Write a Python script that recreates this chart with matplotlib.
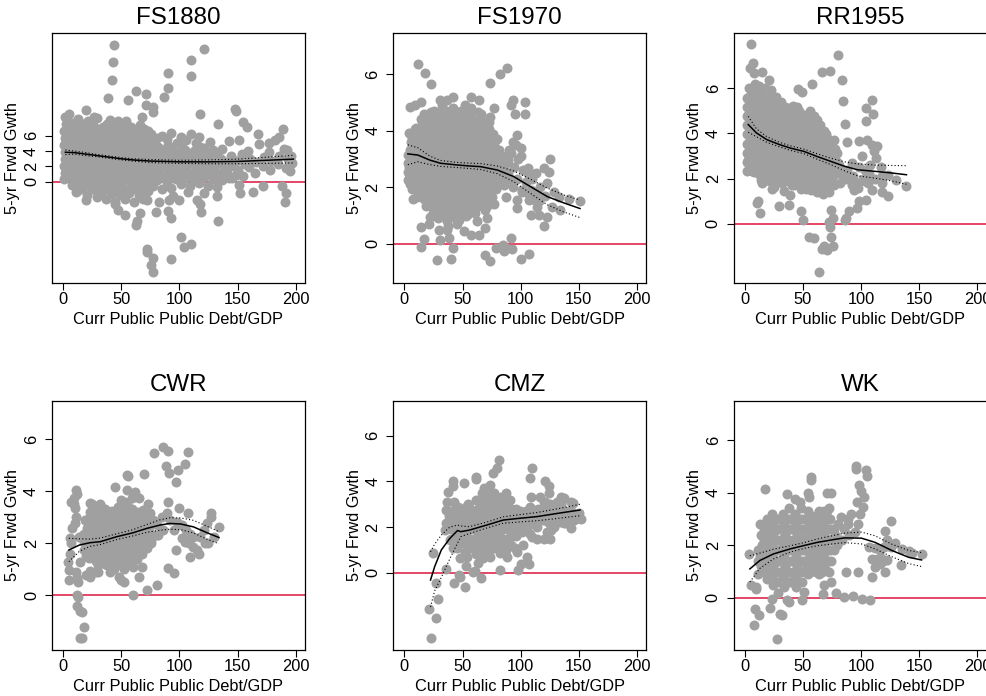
import matplotlib
matplotlib.use("Agg")
import matplotlib.pyplot as plt

plt.rcParams['font.family'] = ['Liberation Sans', 'DejaVu Sans']

# ---------------- data ----------------
TITLES = ["FS1880", "FS1970", "RR1955", "CWR", "CMZ", "WK"]
X_LABEL = "Curr Public Public Debt/GDP"
Y_LABEL = "5-yr Frwd Gwth"
X_TICKS = [0, 50, 100, 150, 200]
Y_TICKS = [0, 2, 4, 6]
Y_LIMITS = [(-13.2, 19.4), (-1.37, 7.44), (-2.6, 8.42), (-2.1, 7.47), (-3.39, 7.54), (-1.99, 7.5)]

FS1880_POINTS = [
    (1,0.3),(2,1.2),(0.5,2.1),(1.5,3.0),(2,3.9),(0.8,4.8),(1.8,5.7),(1,6.6),(2.2,7.5),(1.5,8.4),
    (4,0.8),(5,1.7),(3.5,2.6),(4.5,3.5),(5,4.4),(3.8,5.3),(4.6,6.2),(5.2,7.1),(4,8.0),(5,8.8),
    (8,-0.4),(9,0.5),(7.5,1.4),(8.5,2.3),(9,3.2),(7.8,4.1),(8.6,5.0),(9.2,5.9),(8,6.8),(9,7.7),
    (12,-1.2),(13,0),(11.5,1.0),(12.5,2.0),(13,2.9),(11.8,3.8),(12.6,4.7),(13.2,5.6),(12,6.5),(13,7.4),(12.5,8.2),
    (17,-0.7),(16,0.4),(17.5,1.3),(16.5,2.2),(17,3.1),(18,4.0),(16.6,4.9),(17.2,5.8),(18,6.7),(17,7.6),
    (21,-1.8),(22,-0.3),(20.5,0.8),(21.5,1.7),(22,2.6),(20.8,3.5),(21.6,4.4),(22.2,5.3),(21,6.2),(22,7.1),(21.5,8.0),
    (25,-1.0),(26,0.1),(24.5,1.1),(25.5,2.0),(26,2.9),(24.8,3.8),(25.6,4.7),(26.2,5.6),(25,6.5),(26,7.4),
    (29,-2.0),(30,-0.6),(28.5,0.5),(29.5,1.5),(30,2.4),(28.8,3.3),(29.6,4.2),(30.2,5.1),(29,6.0),(30,6.9),(29.5,8.3),
    (33,-1.3),(34,-0.2),(32.5,0.9),(33.5,1.8),(34,2.7),(32.8,3.6),(33.6,4.5),(34.2,5.4),(33,6.3),(34,7.2),
    (37,-2.3),(38,-0.8),(36.5,0.3),(37.5,1.3),(38,2.2),(36.8,3.1),(37.6,4.0),(38.2,4.9),(37,5.8),(38,6.7),(37.5,7.6),
    (41,-1.6),(42,-0.4),(40.5,0.7),(41.5,1.7),(42,2.6),(40.8,3.5),(41.6,4.4),(42.2,5.3),(41,6.2),(42,7.1),
    (45,-2.6),(46,-1.0),(44.5,0.1),(45.5,1.1),(46,2.0),(44.8,2.9),(45.6,3.8),(46.2,4.7),(45,5.6),(46,6.5),(45.5,7.4),
    (49,-1.8),(50,-0.5),(48.5,0.6),(49.5,1.6),(50,2.5),(48.8,3.4),(49.6,4.3),(50.2,5.2),(49,6.1),(50,7.0),
    (53,-2.2),(54,-1.1),(52.5,0.2),(53.5,1.2),(54,2.1),(52.8,3.0),(53.6,3.9),(54.2,4.8),(53,5.7),(54,6.6),(53.5,7.6),
    (57,-1.5),(58,-0.2),(56.5,0.8),(57.5,1.8),(58,2.7),(56.8,3.6),(57.6,4.5),(58.2,5.4),(57,6.3),(58,7.2),
    (61,-2.6),(62,-0.8),(60.5,0.4),(61.5,1.4),(62,2.3),(60.8,3.2),(61.6,4.1),(62.2,5.0),(61,5.9),(62,6.8),
    (65,-1.7),(66,-0.1),(64.5,1.0),(65.5,2.0),(66,2.9),(64.8,3.8),(65.6,4.7),(66.2,5.6),(65,6.5),(66,7.4),
    (69,-2.2),(70,-0.6),(68.5,0.5),(69.5,1.5),(70,2.4),(68.8,3.3),(69.6,4.2),(70.2,5.1),(69,6.0),(70,6.9),
    (73,-1.2),(74,0.1),(72.5,1.1),(73.5,2.1),(74,3.0),(72.8,3.9),(73.6,4.8),(74.2,5.7),(73,6.6),
    (77,-0.5),(78,0.7),(76,1.8),(77,2.9),(78,4.0),(77,5.1),(76,6.2),
    (81,0.2),(82,1.3),(80,2.4),(81,3.5),(82,4.6),(81,5.7),
    (85,-1.0),(86,0.6),(84,1.9),(85,3.0),(86,4.1),(85,6.0),
    (89,0.0),(90,1.2),(88,2.5),(89,3.6),(90,4.8),(89,5.6),
    (93,-0.8),(94,0.7),(92,1.8),(93,2.9),(94,4.2),(93,6.4),
    (97,0.3),(98,1.5),(96,2.6),(97,3.8),(98,5.0),
    (101,-0.3),(102,1.0),(100,2.2),(101,3.3),(102,4.5),(101,5.9),
    (105,0.5),(106,1.8),(104,2.9),(105,4.1),(106,5.4),
    (109,-0.6),(110,1.2),(108,2.4),(109,3.6),(110,6.2),
    (113,0.2),(114,1.6),(112,2.8),(113,4.0),(114,5.0),
    (117,-0.2),(118,1.0),(116,2.2),(117,3.4),(118,4.6),(117,5.8),
    (121,0.6),(122,1.9),(120,3.1),(121,4.4),
    (125,-0.5),(126,1.3),(124,2.5),(125,3.7),(126,5.2),
    (129,0.4),(130,1.8),(128,3.0),(129,4.2),
    (133,1.0),(134,2.4),(132,3.5),
    (137,0.2),(138,1.7),(136,3.0),(137,4.3),
    (141,1.1),(142,2.6),(145,0.5),(146,2.0),(144,3.3),
    (150,1.5),(151,2.8),(155,0.8),(156,2.3),(154,3.6),
    (160,1.9),(161,3.0),(165,1.2),(166,2.6),(172,2.0),(173,3.2),
    (178,1.5),(179,2.7),(177,3.9),(185,2.3),(186,3.4),(192,1.8),(193,3.0),(197,2.5),(196,3.3),
    # scattered points
    (43.8,17.9),(43,15.6),(42,13.3),(121,17.3),(110,15.9),(110,13.8),(90,14.2),(90,12.2),(87,11.1),
    (39,10.9),(62.5,11.9),(71,11.5),(56,10.7),(71,10.0),(77,9.8),(77,9.1),(19.5,9.4),(27,8.4),
    (40,8.1),(47,8.0),(54,7.9),(68,8.5),(117.5,8.8),(148,9.5),(148.5,9.2),(155,7.8),(158,7.1),
    (133,7.6),(168,6.3),(189,6.9),(186,5.8),(182,5.5),(168.5,4.9),(177,5.1),(190,4.3),(192.5,4.1),
    (143,5.3),(151,5.4),(159,4.0),(195,1.4),(192,-1.5),(191,-2.6),(188,-0.6),(172,-0.6),(163,-1.3),
    (152,-1.5),(151,-0.4),(149,0.9),(143,0.5),(132,-0.7),(132,-1.9),(133,-5.1),(121,-1.5),
    (117.5,-2.9),(118.6,-4.0),(115,-2.4),(107,-1.3),(100,-2.4),(94.5,-1.9),(91,-2.4),(90,-3.8),
    (93,-4.8),(82.5,-2.6),(79.6,-3.9),(101,-7.2),(104,-8.5),(110,-8.1),(92.5,-10.1),(72,-8.8),
    (72.3,-9.2),(77.6,-10.0),(76,-10.9),(77,-11.8),(62.5,-5.7),(63.6,-5.1),(66,-4.1),(53,-4.3),
    (47,-3.7),(44.4,-2.9),(19.5,-2.4),(11,-1.4),(72.5,-2.4),(69,-1.3),
]
FS1880_FILL_ROWS = [
    (-1.0, [15, 27, 35, 43, 51, 59, 67]),
    (3.5, [3, 11, 19, 27, 35, 43, 51, 59, 67, 75]),
    (6.0, [3, 11, 19, 27, 35, 43, 51, 59, 67]),
]

FS1970_POINTS = [
    (5,2.4),(4,2.7),(6,3.0),(4.5,3.3),(5.5,3.6),
    (9,2.0),(8,2.3),(10,2.6),(8.5,2.9),(9.5,3.2),(9,3.5),(8,3.8),(10,4.1),
    (13,1.8),(12,2.5),(14,2.8),(12.5,3.1),(13.5,3.4),(13,3.7),(12,4.0),(14,4.4),
    (17,1.6),(16,2.2),(18,2.6),(16.5,2.9),(17.5,3.2),(17,3.5),(16,3.8),(18,4.1),(17,4.6),
    (21,1.4),(20,1.9),(22,2.3),(20.5,2.6),(21.5,2.9),(21,3.2),(20,3.5),(22,3.8),(21,4.2),(20.5,4.6),
    (25,1.1),(24,1.6),(26,2.0),(24.5,2.4),(25.5,2.7),(25,3.0),(24,3.3),(26,3.6),(25,3.9),(24.5,4.3),(25.5,4.7),
    (29,0.9),(28,1.3),(30,1.7),(28.5,2.1),(29.5,2.4),(29,2.7),(28,3.0),(30,3.3),(29,3.6),(28.5,3.9),(29.5,4.2),(29,4.6),
    (33,1.0),(32,1.4),(34,1.8),(32.5,2.1),(33.5,2.4),(33,2.7),(32,3.0),(34,3.3),(33,3.6),(32.5,3.9),(33.5,4.2),(33,4.5),(32,4.9),
    (37,0.8),(36,1.2),(38,1.6),(36.5,1.9),(37.5,2.2),(37,2.5),(36,2.8),(38,3.1),(37,3.4),(36.5,3.7),(37.5,4.0),(37,4.3),(36,4.7),
    (41,1.0),(40,1.3),(42,1.7),(40.5,2.0),(41.5,2.3),(41,2.6),(40,2.9),(42,3.2),(41,3.5),(40.5,3.8),(41.5,4.1),(41,4.4),(42,4.8),
    (45,0.7),(44,1.1),(46,1.5),(44.5,1.8),(45.5,2.1),(45,2.4),(44,2.7),(46,3.0),(45,3.3),(44.5,3.6),(45.5,3.9),(45,4.2),(44,4.6),
    (49,1.2),(48,1.6),(50,1.9),(48.5,2.2),(49.5,2.5),(49,2.8),(48,3.1),(50,3.4),(49,3.7),(48.5,4.0),(49.5,4.3),(49,4.7),
    (53,1.0),(52,1.4),(54,1.7),(52.5,2.0),(53.5,2.3),(53,2.6),(52,2.9),(54,3.2),(53,3.5),(52.5,3.8),(53.5,4.1),(53,4.5),(52,4.9),
    (57,1.3),(56,1.7),(58,2.0),(56.5,2.3),(57.5,2.6),(57,2.9),(56,3.2),(58,3.5),(57,3.8),(56.5,4.1),(57.5,4.4),(57,4.8),
    (61,1.1),(60,1.5),(62,1.9),(60.5,2.2),(61.5,2.5),(61,2.8),(60,3.1),(62,3.4),(61,3.7),(60.5,4.0),(61.5,4.3),
    (65,1.4),(64,1.8),(66,2.1),(64.5,2.4),(65.5,2.7),(65,3.0),(64,3.3),(66,3.6),(65,3.9),(64.5,4.2),(65.5,4.6),
    (69,1.2),(68,1.7),(70,2.0),(68.5,2.3),(69.5,2.6),(69,2.9),(68,3.2),(70,3.5),(69,3.8),(68.5,4.1),
    (73,1.5),(72,1.9),(74,2.2),(72.5,2.6),(73.5,2.9),(73,3.2),(72,3.6),(74,3.9),(73,4.3),
    (77,1.4),(76,2.0),(78,2.4),(76.5,2.8),(77.5,3.1),(77,3.5),(76,3.9),
    (81,2.1),(80,2.5),(82,2.9),(81,3.3),(80,3.7),
    (85,2.3),(86,2.7),(84,3.1),(89,2.5),(88,2.9),(90,3.3),(93,2.0),(94,2.7),(92,3.2),
    (97,2.3),(98,3.0),(96,3.5),(101,1.9),(102,2.6),(100,3.1),(105,2.2),(106,2.5),
    (109,1.9),(110,2.3),(113,1.8),(117,2.0),(116,1.5),(121,1.7),
    # scattered points
    (11.8,6.35),(17.5,6.05),(22.7,5.66),(82,6.0),(88.5,6.2),(73.3,5.67),(93.4,5.08),(104,5.02),
    (104,4.6),(95,4.6),(91.5,4.9),(3.7,3.93),(5,4.85),(9.5,4.9),(14.4,5.0),(31,5.08),(37,5.08),
    (41.7,5.2),(57,5.2),(64,5.1),(77,4.8),(73.6,4.5),(97,3.85),(93.7,3.6),(100.6,3.4),
    (106.6,2.67),(113.5,2.5),(125,3.0),(120,2.67),(124.4,2.55),(123,2.14),(128.7,1.85),
    (133,1.67),(141.7,1.6),(151,1.5),(133.6,1.2),(127,1.3),(123,0.96),(120,0.64),(116,1.02),
    (114,1.3),(108.6,1.02),(107,1.55),(112,1.55),(105,1.85),(109,1.8),(97,1.55),(101,1.85),
    (97,1.26),(87,1.67),(79,2.2),(85.6,2.08),(91,2.3),(82.8,2.6),(89,2.96),
    (14.4,-0.1),(16.7,0.16),(14.7,0.59),(21,0.7),(22.4,0.96),(28,-0.56),(31,0.14),(29.6,0.5),
    (38,0.2),(39.7,-0.54),(41.7,-0.15),(37,0.5),(37.5,0.62),(42.5,0.96),(47,0.85),(51,0.44),
    (57,0.32),(64.6,0.32),(62.6,0.8),(69,0.55),(71,0.9),(69.3,-0.39),(74,-0.62),(78.4,-0.15),
    (85,-0.04),(87,-0.15),(85.5,-0.24),(91.4,0.2),(92.8,-0.19),(100,-0.54),(107,-0.35),
    (7.5,1.6),(4.6,2.1),(6.6,2.05),(4,2.5),(12,2.2),(19,2.0),(14,1.7),(19.5,1.55),(24,1.85),(25,1.45),
]
FS1970_FILL_ROWS = [
    (1.05, [27, 31, 35, 39, 43, 47, 51, 55]),
    (1.35, [19, 23, 27, 31, 35, 39, 43, 47, 51, 55, 59, 63, 67, 71]),
    (1.65, [11, 15, 19, 23, 27, 31, 35, 39, 43, 47, 51, 55, 59, 63, 67, 71, 75]),
    (1.95, [7, 11, 15, 19, 23, 27, 31, 35, 39, 43, 47, 51, 55, 59, 63, 67, 71, 75, 79]),
    (2.25, [3, 7, 11, 15, 19, 23, 27, 31, 35, 39, 43, 47, 51, 55, 59, 63, 67, 71, 75, 79, 83]),
    (2.55, [3, 7, 11, 15, 19, 23, 27, 31, 35, 39, 43, 47, 51, 55, 59, 63, 67, 71, 75, 79, 83]),
    (2.85, [3, 7, 11, 15, 19, 23, 27, 31, 35, 39, 43, 47, 51, 55, 59, 63, 67, 71, 75, 79]),
    (3.15, [3, 7, 11, 15, 19, 23, 27, 31, 35, 39, 43, 47, 51, 55, 59, 63, 67, 71, 75, 79]),
    (3.45, [7, 11, 15, 19, 23, 27, 31, 35, 39, 43, 47, 51, 55, 59, 63, 67, 71, 75]),
    (3.75, [7, 11, 15, 19, 23, 27, 31, 35, 39, 43, 47, 51, 55, 59, 63, 67, 71, 75]),
    (4.05, [9, 13, 17, 21, 25, 29, 33, 37, 41, 45, 49, 53, 57, 61, 65, 69, 73]),
    (4.35, [15, 19, 23, 27, 31, 35, 39, 43, 47, 51, 55, 59, 63, 67]),
    (4.65, [23, 31, 39, 45, 51, 57, 63]),
]

RR1955_POINTS = [
    (4,2.4),(3,2.8),(5,3.2),(3.5,3.6),(4.5,4.0),(4,4.4),(3,4.8),(5,5.2),(4,5.6),(3.5,6.0),
    (8,2.3),(7,2.7),(9,3.1),(7.5,3.5),(8.5,3.9),(8,4.3),(7,4.7),(9,5.1),(8,5.5),(7.5,5.9),(8.5,6.2),
    (12,2.2),(11,2.6),(13,3.0),(11.5,3.4),(12.5,3.8),(12,4.2),(11,4.6),(13,5.0),(12,5.4),(11.5,5.8),(12.5,6.1),
    (17,2.0),(16,2.4),(18,2.8),(16.5,3.2),(17.5,3.6),(17,4.0),(16,4.4),(18,4.8),(17,5.2),(16.5,5.6),(17.5,6.0),
    (22,1.9),(21,2.3),(23,2.7),(21.5,3.1),(22.5,3.5),(22,3.9),(21,4.3),(23,4.7),(22,5.1),(21.5,5.5),(22.5,5.9),
    (27,2.0),(26,2.4),(28,2.8),(26.5,3.2),(27.5,3.6),(27,4.0),(26,4.4),(28,4.8),(27,5.2),(26.5,5.6),
    (32,1.8),(31,2.2),(33,2.6),(31.5,3.0),(32.5,3.4),(32,3.8),(31,4.2),(33,4.6),(32,5.0),(31.5,5.4),
    (37,1.9),(36,2.3),(38,2.7),(36.5,3.1),(37.5,3.5),(37,3.9),(36,4.3),(38,4.7),(37,5.1),
    (42,1.7),(41,2.1),(43,2.5),(41.5,2.9),(42.5,3.3),(42,3.7),(41,4.1),(43,4.5),(42,4.9),(41.5,5.2),
    (47,1.8),(46,2.2),(48,2.6),(46.5,3.0),(47.5,3.4),(47,3.8),(46,4.2),(48,4.6),(47,5.0),
    (52,1.6),(51,2.0),(53,2.4),(51.5,2.8),(52.5,3.2),(52,3.6),(51,4.0),(53,4.4),(52,4.8),
    (57,1.5),(56,1.9),(58,2.3),(56.5,2.7),(57.5,3.1),(57,3.5),(56,3.9),(58,4.3),(57,4.7),(56.5,5.0),
    (62,1.4),(61,1.8),(63,2.2),(61.5,2.6),(62.5,3.0),(62,3.4),(61,3.8),(63,4.2),(62,4.6),
    (67,1.3),(66,1.7),(68,2.1),(66.5,2.5),(67.5,2.9),(67,3.3),(66,3.7),(68,4.1),
    (72,1.4),(71,1.8),(73,2.2),(71.5,2.6),(72.5,3.0),(72,3.4),(71,3.8),
    (77,1.7),(76,2.1),(78,2.5),(76.5,2.9),(77.5,3.3),(77,3.7),
    (82,1.8),(83,2.2),(81,2.6),(87,2.0),(88,2.4),(92,1.7),(93,2.1),(97,1.6),(98,2.5),
    (102,2.0),(103,2.4),(107,2.2),(108,2.6),(106,1.8),(112,2.0),(113,2.9),(111,3.2),(117,2.5),(118,1.8),
    # scattered points
    (5.2,7.93),(7.3,7.1),(4.4,6.9),(8,6.65),(14.5,6.7),(21,6.34),(80.5,7.44),(66,6.7),(73,6.75),
    (83.7,6.35),(58,6.16),(45.6,5.97),(49,5.82),(84.3,5.42),(109.6,5.47),(104,5.1),(110.5,4.87),
    (104.6,4.53),(85.8,4.43),(98,3.65),(88,3.6),(105.5,3.7),(109,3.5),(113.4,3.43),(101,2.98),
    (92.4,2.69),(117.7,2.13),(123.5,2.17),(130,1.92),(138.7,1.68),(117.7,1.39),(123,1.21),
    (104.6,1.06),(98,0.99),(96.8,0.69),(90,0.59),(87,0.25),(86.5,0.18),(74,0.6),(75.5,0.25),
    (72.5,0.1),(73.5,-0.12),(74,-0.56),(75.6,-0.97),(66,-1.1),(68,-1.0),(71,-1.15),(59.6,-0.64),
    (55,-0.56),(64,-2.11),(50,0.15),(48,0.59),(37.8,0.84),(29.7,0.77),(11.6,0.99),(10.2,0.92),
    (13,0.5),(14.8,1.8),(23,1.54),(25,1.65),(33.4,1.43),(40.7,1.73),(39,1.28),(5,2.4),
    (94,1.5),(97,1.8),(103,1.9),(109,1.5),
]
RR1955_FILL_ROWS = [
    (1.55, [48, 53, 58, 63, 68]),
    (1.95, [14, 19, 24, 29, 34, 39, 44, 49, 54, 59, 64, 69, 74]),
    (2.35, [2, 6, 10, 14.5, 19.5, 24.5, 29.5, 34.5, 39.5, 44.5, 49.5, 54.5, 59.5, 64.5, 69.5, 74.5, 79]),
    (2.75, [2, 6, 10, 14.5, 19.5, 24.5, 29.5, 34.5, 39.5, 44.5, 49.5, 54.5, 59.5, 64.5, 69.5, 74.5, 79]),
    (3.15, [2, 6, 10, 14.5, 19.5, 24.5, 29.5, 34.5, 39.5, 44.5, 49.5, 54.5, 59.5, 64.5, 69.5, 74.5, 79]),
    (3.55, [2, 6, 10, 14.5, 19.5, 24.5, 29.5, 34.5, 39.5, 44.5, 49.5, 54.5, 59.5, 64.5, 69.5, 74.5]),
    (3.95, [2, 6, 10, 14.5, 19.5, 24.5, 29.5, 34.5, 39.5, 44.5, 49.5, 54.5, 59.5, 64.5, 69.5]),
    (4.35, [2, 6, 10, 14.5, 19.5, 24.5, 29.5, 34.5, 39.5, 44.5, 49.5, 54.5, 59.5, 64.5]),
    (4.75, [2, 6, 10, 14.5, 19.5, 24.5, 29.5, 34.5, 39.5, 44.5, 49.5, 54.5, 59.5]),
    (5.15, [2, 6, 10, 14.5, 19.5, 24.5, 29.5, 34.5, 44.5]),
    (5.55, [2, 6, 10, 14.5, 19.5, 24.5]),
    (5.95, [6, 10, 14.5]),
]

CWR_POINTS = [
    (20,1.5),(21,2.6),(19,2.9),(20,0.8),
    (24,1.7),(23,2.3),(25,2.6),(24,2.9),(23,3.2),(25,3.5),
    (28,1.3),(27,1.9),(29,2.2),(28,2.5),(27,2.8),(29,3.1),(28,0.9),
    (32,1.5),(31,2.0),(33,2.3),(32,2.6),(31,2.9),(33,3.2),(32,3.5),
    (36,1.2),(35,1.7),(37,2.0),(36,2.3),(35,2.6),(37,2.9),(36,3.3),
    (40,0.9),(39,1.3),(41,1.6),(40,1.9),(39,2.2),(41,2.5),(40,2.8),(39,3.1),
    (44,1.0),(43,1.4),(45,1.7),(44,2.0),(43,2.3),(45,2.6),(44,2.9),(43,3.2),
    (48,1.2),(47,1.5),(49,1.8),(48,2.1),(47,2.4),(49,2.7),(48,3.0),(47,3.4),
    (52,1.0),(51,1.4),(53,1.7),(52,2.0),(51,2.3),(53,2.6),(52,2.9),(51,3.2),(53,3.6),
    (56,1.3),(55,1.6),(57,1.9),(56,2.2),(55,2.5),(57,2.8),(56,3.1),(55,3.5),
    (60,1.1),(59,1.5),(61,1.8),(60,2.1),(59,2.4),(61,2.7),(60,3.0),(59,3.3),(61,3.9),
    (64,1.4),(63,1.7),(65,2.0),(64,2.3),(63,2.6),(65,2.9),(64,3.2),
    (68,1.6),(67,2.0),(69,2.4),(68,2.8),(67,3.1),
    (72,1.8),(71,2.2),(73,2.6),(72,3.0),
    (76,2.0),(75,2.4),(77,2.9),
    (82,2.3),(81,2.7),(86,2.5),(85,3.0),
    # scattered points
    (11,4.04),(12,3.9),(9.2,3.72),(7.2,3.6),(9.2,3.5),(10.4,3.34),(11.5,3.0),(10,2.76),(8,2.57),
    (5.8,2.19),(7,2.0),(13.8,2.25),(15.5,2.25),(17.3,2.3),(6.3,1.6),(4.3,1.29),(14.4,1.29),
    (5.2,0.97),(11.5,0.9),(12,0.65),(13,0.52),(4.9,0.59),(12.4,0.01),(13,-0.05),(12,-0.41),
    (14.4,-0.59),(16,-0.63),(17.8,-1.2),(14.4,-1.65),(16.7,-1.65),
    (23,3.53),(26,3.4),(31.7,3.45),(44.6,4.17),(54.7,4.62),(56,4.58),(62,3.98),(69.6,4.65),
    (73,3.5),(65.6,3.72),(54.7,4.04),(59,3.72),(50,3.66),(69,3.27),(75,3.15),(80.6,2.31),
    (78,2.76),(72,2.25),(76,2.12),(66,1.87),(67.6,1.1),(65.6,0.72),(60,0.01),(72,0.2),(80.6,0.4),
    (50,0.6),(52,0.5),(48.5,0.72),(30,0.9),(23,0.95),(23.5,0.72),
    (78.3,5.47),(85.8,5.7),(90.6,5.55),(88.6,4.96),(91.5,4.68),(97,4.36),(98.7,4.83),(104.5,5.03),
    (107,5.49),(99.3,3.34),(107.3,3.15),(90.6,3.6),
    (89,3.15),(92,2.9),(95,2.5),(98,2.83),(102,2.7),(106,2.5),(109,2.35),(112,2.25),(102,2.2),
    (105,2.06),(108,2.0),(112,1.87),(115,1.74),(117,1.58),(109,1.48),(118,2.25),(121,2.5),
    (124,2.76),(127,3.02),(127,3.15),(122,2.0),(125,2.0),(129.5,2.25),(134,2.63),(97,1.74),
    (90.6,1.04),(95,0.87),
]
CWR_FILL_ROWS = [
    (1.15, [30, 38, 42, 46, 50, 54, 58]),
    (1.45, [22, 26, 30, 34, 38, 42, 46, 50, 54, 58, 62]),
    (1.75, [18, 22, 26, 30, 34, 38, 42, 46, 50, 54, 58, 62, 66]),
    (2.05, [18, 22, 26, 30, 34, 38, 42, 46, 50, 54, 58, 62, 66, 70]),
    (2.35, [18, 22, 26, 30, 34, 38, 42, 46, 50, 54, 58, 62, 66, 70, 74]),
    (2.65, [22, 26, 30, 34, 38, 42, 46, 50, 54, 58, 62, 66, 70, 74]),
    (2.95, [22, 26, 30, 34, 38, 42, 46, 50, 54, 58, 62, 66]),
    (3.25, [26, 34, 42, 50, 54, 58]),
]

CMZ_POINTS = [
    (42,1.1),(41,1.5),(43,1.9),(42,2.3),(41,2.7),(43,3.1),
    (47,1.3),(46,1.7),(48,2.1),(47,2.5),(46,2.9),
    (52,0.9),(51,1.3),(53,1.7),(52,2.1),(51,2.5),(53,2.9),
    (57,1.1),(56,1.5),(58,1.9),(57,2.3),(56,2.7),
    (62,0.8),(61,1.2),(63,1.6),(62,2.0),(61,2.4),(63,2.8),(62,3.2),
    (67,1.0),(66,1.4),(68,1.8),(67,2.2),(66,2.6),(68,3.0),(67,3.5),
    (72,0.9),(71,1.3),(73,1.7),(72,2.1),(71,2.5),(73,2.9),(72,3.3),(71,3.7),
    (77,1.1),(76,1.5),(78,1.9),(77,2.3),(76,2.7),(78,3.1),(77,3.5),
    (82,1.3),(81,1.7),(83,2.1),(82,2.5),(81,2.9),(83,3.3),
    (87,1.0),(86,1.4),(88,1.9),(87,2.3),(86,2.7),(88,3.1),(87,3.5),
    (92,1.2),(91,2.0),(93,2.4),(92,2.8),(91,3.2),
    (97,0.9),(96,1.6),(98,2.0),(97,2.4),(96,2.8),
    (102,1.2),(101,1.8),(103,2.2),(102,2.6),
    (108,1.7),(107,2.1),(109,2.5),(108,2.9),
    (114,2.0),(113,2.4),(115,2.8),
    (119,2.3),(118,2.7),(120,3.1),
    (124,2.2),(123,2.6),(125,3.0),(124,3.5),
    (129,2.0),(128,2.4),(130,2.8),
    (134,2.3),(133,2.7),(135,3.0),
    (139,2.2),(138,2.6),(144,2.3),(143,2.7),(149,2.4),
    # scattered points
    (22.5,-2.88),(21,-1.61),(27,-2.0),(29,-1.13),(27,-0.44),(25,0.85),(35.5,0.15),(43,-0.44),
    (47,-0.1),(48,-0.18),(52,-0.64),(52.6,0.3),(61,0.07),(59,0.05),(65.6,-0.25),(82,0.12),
    (98,0.12),(107,0.4),(37.6,3.56),(36.7,3.12),(42,4.0),(42,3.78),(51.4,3.95),(61.6,4.1),
    (62,4.2),(56,2.9),(55,3.0),(81,4.92),(80,4.58),(76.6,4.36),(68.8,3.7),(74,3.85),(110,4.58),
    (108,4.14),(121,4.0),(124,3.78),(109,3.34),(117,3.34),(135,3.34),(137,3.26),(143,3.1),
    (145,3.07),(150,2.6),(152,2.34),(143,1.95),(137,2.17),(134,2.24),(123,1.8),(126,1.87),
    (120,1.5),(114,1.46),(110,1.58),(125,1.46),(100,0.4),(105.5,0.7),(88,0.7),(82,0.85),
    (91,1.58),(97,1.8),(73.7,0.7),(68,0.63),(63.6,0.41),(53.5,0.7),(47.7,0.63),(34.7,1.87),
    (39,1.43),(36,2.75),(38,2.5),(36,2.2),(40,2.0),(44,2.9),(45,2.6),
]
CMZ_FILL_ROWS = [
    (1.1, [45, 55, 65, 75, 85, 95]),
    (1.5, [40, 44.5, 49.5, 54.5, 59.5, 64.5, 69.5, 74.5, 79.5, 84.5, 89.5]),
    (1.9, [40, 44.5, 49.5, 54.5, 59.5, 64.5, 69.5, 74.5, 79.5, 84.5, 89.5, 94.5, 99.5, 105]),
    (2.3, [44.5, 49.5, 54.5, 59.5, 64.5, 69.5, 74.5, 79.5, 84.5, 89.5, 94.5, 99.5, 105, 111, 116, 121, 126, 131, 136, 141, 146]),
    (2.7, [44.5, 49.5, 54.5, 59.5, 64.5, 69.5, 74.5, 79.5, 84.5, 89.5, 94.5, 99.5, 105, 111, 116, 121, 126, 131, 136, 141]),
    (3.1, [64.5, 69.5, 74.5, 79.5, 84.5, 89.5, 121, 131]),
]

WK_POINTS = [
    (14,1.2),(13,1.6),(15,2.0),(14,2.4),(13,2.8),
    (19,0.7),(18,1.1),(20,1.5),(19,1.9),(18,2.3),(20,2.7),(19,3.0),
    (24,0.5),(23,0.9),(25,1.3),(24,1.7),(23,2.1),(25,2.5),(24,2.9),(23,3.2),
    (29,0.2),(28,0.6),(30,1.0),(29,1.4),(28,1.8),(30,2.2),(29,2.6),(28,3.0),
    (34,0.4),(33,0.8),(35,1.2),(34,1.6),(33,2.0),(35,2.4),(34,2.8),(33,3.2),
    (39,0.6),(38,1.0),(40,1.4),(39,1.8),(38,2.2),(40,2.6),(39,3.0),(38,3.4),
    (44,0.4),(43,0.8),(45,1.2),(44,1.6),(43,2.0),(45,2.4),(44,2.8),(43,3.2),
    (49,0.6),(48,1.0),(50,1.4),(49,1.8),(48,2.2),(50,2.6),(49,3.0),(48,3.4),
    (54,0.9),(53,1.3),(55,1.7),(54,2.1),(53,2.5),(55,2.9),(54,3.3),
    (59,1.1),(58,1.5),(60,1.9),(59,2.3),(58,2.7),(60,3.1),
    (64,0.9),(63,1.3),(65,1.7),(64,2.1),(63,2.5),(65,2.9),(64,3.3),
    (69,1.1),(68,1.5),(70,1.9),(69,2.3),(68,2.7),(70,3.1),
    (74,1.4),(73,1.8),(75,2.2),(74,2.6),(73,3.0),
    (79,2.0),(78,2.4),(80,2.8),(84,2.2),(85,2.6),(90,2.4),(89,2.8),(95,2.5),
    (116,1.8),(117,1.5),(112,1.9),
    # scattered points
    (3.8,1.65),(5,0.5),(9.6,0.43),(9.4,0.34),(11,0.91),(8.7,-0.42),(12.2,-0.67),(8.1,-1.05),
    (27.6,-1.58),(21.8,-0.38),(23,-0.04),(30,-0.63),(32,-0.67),(36,-0.08),(38,-0.16),(49.4,-0.08),
    (51,0.22),(17,4.14),(36.3,3.95),(43.6,3.76),(47.4,3.63),(54.4,3.97),(55,3.85),(56.7,4.58),
    (57,4.48),(70.6,3.97),(74,4.0),(68,3.3),(72,3.4),(71,3.3),(96,5.0),(95.5,4.9),(104.6,4.87),
    (105.5,4.62),(98,4.29),(100,4.08),(102.3,3.82),(96.8,3.63),(101.7,3.44),(91,3.19),(83,3.06),
    (88.6,3.0),(98.8,3.19),(97.4,2.81),(125.6,2.94),(120.6,2.56),(122,2.2),(129,2.1),(120,1.95),
    (126,1.92),(135,1.86),(141,1.78),(144,1.7),(152.6,1.67),(134.6,1.23),(122,1.42),(119,1.4),
    (116,1.29),(114,1.48),(109,1.48),(112,1.16),(109,0.78),(120.6,0.97),(107,1.92),(97.4,0.97),
    (87,0.97),(72.7,0.97),(74,0.6),(67.7,0.47),(66.9,0.15),(78.5,0.18),(85,0.04),(93,0.06),
    (100.5,-0.04),(108,-0.1),
]
WK_FILL_ROWS = [
    (0.6, [26.5, 36.5, 41.5, 46.5]),
    (1.0, [16.5, 21.5, 26.5, 31.5, 36.5, 41.5, 46.5, 51.5, 56.5, 61.5, 66.5]),
    (1.4, [11.5, 16.5, 21.5, 26.5, 31.5, 36.5, 41.5, 46.5, 51.5, 56.5, 61.5, 66.5, 71.5]),
    (1.8, [11.5, 16.5, 21.5, 26.5, 31.5, 36.5, 41.5, 46.5, 51.5, 56.5, 61.5, 66.5, 71.5, 76.5]),
    (2.2, [16.5, 21.5, 26.5, 31.5, 36.5, 41.5, 46.5, 51.5, 56.5, 61.5, 66.5, 71.5, 76.5, 81.5]),
    (2.6, [16.5, 21.5, 26.5, 31.5, 36.5, 41.5, 46.5, 51.5, 56.5, 61.5, 66.5, 71.5, 76.5]),
    (3.0, [21.5, 31.5, 41.5, 46.5, 51.5, 56.5, 61.5, 66.5, 71.5]),
]

# lowess-type fit curves (solid) and their bands (dotted)
FS1880_FIT_X = [2, 10, 20, 30, 40, 50, 60, 75, 100, 125, 150, 175, 198]
FS1880_FIT_Y = [3.85, 3.8, 3.6, 3.4, 3.2, 3.0, 2.85, 2.7, 2.6, 2.6, 2.65, 2.8, 2.95]
FS1880_UP = [4.15, 4.0, 3.8, 3.55, 3.35, 3.15, 3.0, 2.9, 2.8, 2.85, 2.95, 3.2, 3.45]
FS1880_LO = [3.55, 3.6, 3.4, 3.25, 3.05, 2.85, 2.7, 2.5, 2.4, 2.35, 2.35, 2.4, 2.45]

FS1970_FIT_X = [3, 11.5, 22, 31, 45, 57, 65.5, 80, 94, 108.6, 123, 137, 151]
FS1970_FIT_Y = [3.18, 3.14, 2.96, 2.85, 2.79, 2.75, 2.73, 2.61, 2.38, 2.02, 1.67, 1.45, 1.25]
FS1970_UP = [3.5, 3.4, 3.1, 2.95, 2.88, 2.85, 2.84, 2.75, 2.58, 2.28, 1.97, 1.73, 1.55]
FS1970_LO = [2.8, 2.9, 2.8, 2.74, 2.7, 2.66, 2.63, 2.48, 2.2, 1.78, 1.38, 1.13, 0.93]

RR1955_FIT_X = [3, 10, 19, 30, 39, 51, 62, 74, 86, 97, 112, 126, 139]
RR1955_FIT_Y = [4.39, 4.02, 3.72, 3.5, 3.35, 3.2, 2.98, 2.76, 2.54, 2.39, 2.32, 2.25, 2.17]
RR1955_UP = [4.75, 4.2, 3.85, 3.6, 3.45, 3.3, 3.1, 2.9, 2.74, 2.65, 2.6, 2.58, 2.57]
RR1955_LO = [4.05, 3.85, 3.6, 3.4, 3.25, 3.1, 2.86, 2.62, 2.34, 2.12, 2.02, 1.9, 1.75]

CWR_FIT_X = [5, 14, 23, 32, 46, 60, 72, 83.5, 92, 101, 112, 124, 134]
CWR_FIT_Y = [1.74, 1.93, 2.02, 2.06, 2.25, 2.4, 2.57, 2.7, 2.76, 2.74, 2.63, 2.4, 2.22]
CWR_UP = [2.19, 2.17, 2.16, 2.2, 2.36, 2.52, 2.72, 2.9, 2.98, 2.97, 2.88, 2.65, 2.45]
CWR_LO = [1.29, 1.69, 1.88, 1.95, 2.14, 2.28, 2.42, 2.5, 2.54, 2.52, 2.4, 2.15, 1.98]

CMZ_FIT_X = [22.5, 26, 31.8, 39, 45.7, 48.5, 56, 70.8, 85, 99.7, 114, 131.5, 151]
CMZ_FIT_Y = [-0.32, 0.26, 1.0, 1.5, 1.85, 1.8, 1.87, 2.09, 2.31, 2.39, 2.46, 2.6, 2.75]
CMZ_UP = [0.92, 1.25, 1.65, 2.0, 2.09, 2.05, 2.02, 2.22, 2.45, 2.55, 2.64, 2.8, 3.0]
CMZ_LO = [-1.5, -0.8, -0.2, 0.6, 1.3, 1.58, 1.72, 1.96, 2.17, 2.23, 2.28, 2.38, 2.5]

WK_FIT_X = [4.4, 13, 24.7, 39, 51, 62.5, 77, 85.8, 100.3, 112, 126.5, 141, 152]
WK_FIT_Y = [1.1, 1.42, 1.67, 1.86, 1.99, 2.11, 2.22, 2.28, 2.27, 2.11, 1.8, 1.54, 1.44]
WK_UP = [1.6, 1.7, 1.85, 1.98, 2.1, 2.24, 2.38, 2.46, 2.5, 2.36, 2.04, 1.8, 1.72]
WK_LO = [0.6, 1.12, 1.48, 1.74, 1.88, 1.98, 2.06, 2.1, 2.05, 1.86, 1.56, 1.3, 1.19]

POINTS = [FS1880_POINTS, FS1970_POINTS, RR1955_POINTS, CWR_POINTS, CMZ_POINTS, WK_POINTS]
FILL_ROWS = [FS1880_FILL_ROWS, FS1970_FILL_ROWS, RR1955_FILL_ROWS, CWR_FILL_ROWS, CMZ_FILL_ROWS, WK_FILL_ROWS]
FITS = [
    (FS1880_FIT_X, FS1880_FIT_Y, FS1880_UP, FS1880_LO),
    (FS1970_FIT_X, FS1970_FIT_Y, FS1970_UP, FS1970_LO),
    (RR1955_FIT_X, RR1955_FIT_Y, RR1955_UP, RR1955_LO),
    (CWR_FIT_X, CWR_FIT_Y, CWR_UP, CWR_LO),
    (CMZ_FIT_X, CMZ_FIT_Y, CMZ_UP, CMZ_LO),
    (WK_FIT_X, WK_FIT_Y, WK_UP, WK_LO),
]

# ---------------- layout ----------------
W, H = 987, 696
fig = plt.figure(figsize=(W / 100, H / 100), dpi=100)

COL_LEFT = [52, 393.3, 733.7]
ROW_TOP = [33.3, 400.7]
BW, BH = 253, 249.4
XLIM = (-9.5, 208)

POINT_COLOR = "#A0A0A0"
ZERO_COLOR = "#DC143C"

for i, title in enumerate(TITLES):
    r, c = divmod(i, 3)
    left = COL_LEFT[c] / W
    bottom = (H - ROW_TOP[r] - BH) / H
    ax = fig.add_axes([left, bottom, BW / W, BH / H])
    ax.set_xlim(*XLIM)
    ax.set_ylim(*Y_LIMITS[i])

    ax.axhline(0, color=ZERO_COLOR, lw=1.1, zorder=1)
    xs = [p[0] for p in POINTS[i]]
    ys = [p[1] for p in POINTS[i]]
    for yv, xrow in FILL_ROWS[i]:
        xs.extend(xrow)
        ys.extend([yv] * len(xrow))
    ax.plot(xs, ys, 'o', ms=7.2, color=POINT_COLOR, mec='none', zorder=2)

    fx, fy, fu, fl = FITS[i]
    ax.plot(fx, fy, color='black', lw=1.1, zorder=4)
    ax.plot(fx, fu, color='black', lw=0.8, ls=(0, (1, 2)), zorder=3)
    ax.plot(fx, fl, color='black', lw=0.8, ls=(0, (1, 2)), zorder=3)

    ax.set_xticks(X_TICKS)
    ax.set_yticks(Y_TICKS)
    ax.set_xticklabels([str(v) for v in X_TICKS])
    ax.set_yticklabels([str(v) for v in Y_TICKS], rotation=90, va='center')
    ax.tick_params(axis='both', direction='out', length=4.8, width=0.8,
                   labelsize=11.8, colors='black')
    ax.tick_params(axis='x', pad=1.8)
    ax.tick_params(axis='y', pad=4.5)
    for s in ax.spines.values():
        s.set_linewidth(0.9)
        s.set_color('black')
    if c == 2:
        ax.spines['right'].set_visible(False)

    ax.text(0.5, 1 + 9.3 / BH, title, transform=ax.transAxes,
            ha='center', va='baseline', fontsize=17.4)
    ax.text(0.5, -41 / BH, X_LABEL, transform=ax.transAxes,
            ha='center', va='baseline', fontsize=11.8)
    ax.text(-34.7 / BW, 0.5, Y_LABEL, transform=ax.transAxes, rotation=90,
            rotation_mode='anchor', ha='center', va='baseline', fontsize=11.8)

fig.savefig("out.png", dpi=100)
